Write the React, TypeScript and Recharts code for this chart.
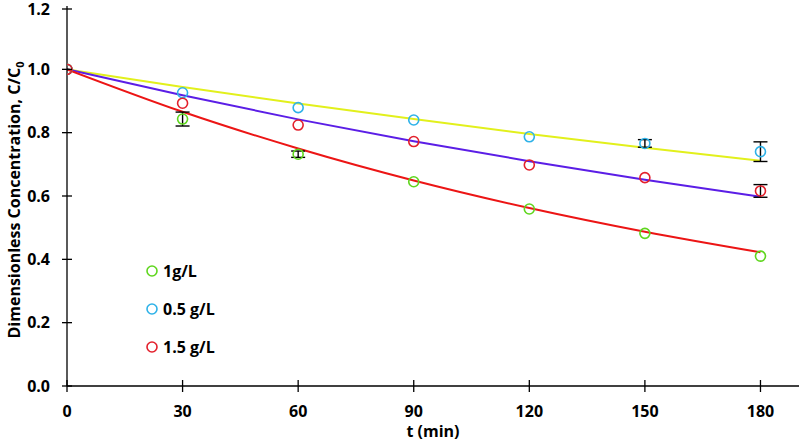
import React from "react";
import {
  ComposedChart,
  Line,
  Scatter,
  ErrorBar,
  XAxis,
  YAxis,
  Label,
} from "recharts";

const times = [0, 30, 60, 90, 120, 150, 180];

// measured points
const dose1 = [1.0, 0.843, 0.732, 0.645, 0.559, 0.482, 0.41];
const dose1Err = [0, 0.022, 0.01, 0, 0, 0, 0];
const dose05 = [1.0, 0.926, 0.879, 0.84, 0.787, 0.766, 0.74];
const dose05Err = [0, 0, 0, 0, 0, 0.012, 0.031];
const dose15 = [1.0, 0.893, 0.824, 0.772, 0.698, 0.658, 0.616];
const dose15Err = [0, 0, 0, 0, 0, 0, 0.02];

// fitted trend lines
const fitYellow = [1.0, 0.944, 0.892, 0.843, 0.796, 0.752, 0.711];
const fitPurple = [1.0, 0.918, 0.842, 0.773, 0.71, 0.651, 0.598];
const fitRed = [1.0, 0.866, 0.75, 0.649, 0.562, 0.487, 0.422];

const xTicks = [0, 30, 60, 90, 120, 150, 180];
const yTicks = [0, 0.2, 0.4, 0.6, 0.8, 1.0, 1.2];

const series = [
  { name: "1g/L", values: dose1, err: dose1Err, color: "#5fd61e" },
  { name: "0.5 g/L", values: dose05, err: dose05Err, color: "#2fb2e8" },
  { name: "1.5 g/L", values: dose15, err: dose15Err, color: "#e3202c" },
];

const fits = [
  { values: fitYellow, color: "#e2f01c" },
  { values: fitPurple, color: "#5b1ee6" },
  { values: fitRed, color: "#ec1515" },
];

const FONT = "'Open Sans', sans-serif";

const toPoints = (vals: number[], err?: number[]) =>
  times.map((t, i) => ({ t, v: vals[i], e: err ? err[i] : 0 }));

const YTick = (props: any) => {
  const { x, y, payload } = props;
  const ax = x + 17;
  return (
    <g>
      <line x1={ax - 5} x2={ax + 5} y1={y} y2={y} stroke="#000" strokeWidth={1.3} />
      <text x={x} y={y} dy="0.36em" textAnchor="end" fontFamily={FONT} fontWeight={700} fontSize={16} fill="#000">
        {payload.value.toFixed(1)}
      </text>
    </g>
  );
};

const XTick = (props: any) => {
  const { x, y, payload } = props;
  const ay = y - 20;
  return (
    <g>
      <line x1={x} x2={x} y1={ay - 6} y2={ay + 6} stroke="#000" strokeWidth={1.3} />
      <text x={x} y={y} dy="0.71em" textAnchor="middle" fontFamily={FONT} fontWeight={700} fontSize={16} fill="#000">
        {payload.value}
      </text>
    </g>
  );
};

const YTitle = (props: any) => {
  const { viewBox } = props;
  const cy = viewBox.y + viewBox.height / 2 + 4;
  return (
    <text
      x={20}
      y={cy}
      transform={`rotate(-90 20 ${cy})`}
      textAnchor="middle"
      fontFamily={FONT}
      fontWeight={700}
      fontSize={16}
      fill="#000"
    >
      <tspan>Dimensionless Concentration, C/C</tspan>
      <tspan fontSize={11} dy={4}>0</tspan>
    </text>
  );
};

const XTitle = (props: any) => {
  const { viewBox } = props;
  return (
    <text
      x={viewBox.x + viewBox.width / 2}
      y={437}
      textAnchor="middle"
      fontFamily={FONT}
      fontWeight={700}
      fontSize={16}
      fill="#000"
    >
      t (min)
    </text>
  );
};

const LegendBox = () => (
  <div
    style={{
      position: "absolute",
      left: 145,
      top: 252,
      fontFamily: FONT,
      fontWeight: 700,
      fontSize: 16,
    }}
  >
    {series.map((s) => (
      <div key={s.name} style={{ display: "flex", alignItems: "center", height: 38 }}>
        <svg width={14} height={14} style={{ marginRight: 4 }}>
          <circle cx={7} cy={7} r={5} fill="none" stroke={s.color} strokeWidth={1.6} />
        </svg>
        <span>{s.name}</span>
      </div>
    ))}
  </div>
);

const ring = (color: string) => (p: any) =>
  <circle cx={p.cx} cy={p.cy} r={5} fill="none" stroke={color} strokeWidth={1.6} />;

export default function App() {
  return (
    <div style={{ width: 802, height: 441, position: "relative" }}>
      <style>{`body{margin:0}`}</style>
      <ComposedChart width={802} height={441} margin={{ top: 6, right: 3, left: 0, bottom: 0 }}>
        <XAxis
          xAxisId="b"
          dataKey="t"
          type="number"
          domain={[0, 190]}
          ticks={xTicks}
          height={55}
          tickLine={false}
          tickSize={6}
          tickMargin={14}
          tick={<XTick />}
          axisLine={{ stroke: "#000", strokeWidth: 1.3 }}
          allowDataOverflow
        >
          <Label content={<XTitle />} />
        </XAxis>
        <XAxis
          xAxisId="top"
          orientation="top"
          type="number"
          domain={[0, 190]}
          height={0}
          tick={false}
          tickLine={false}
          axisLine={{ stroke: "#000", strokeWidth: 1.3 }}
        />
        <YAxis
          yAxisId="l"
          type="number"
          domain={[0, 1.2]}
          ticks={yTicks}
          width={67}
          tickLine={false}
          tickSize={6}
          tickMargin={11}
          tick={<YTick />}
          axisLine={{ stroke: "#000", strokeWidth: 1.3 }}
        >
          <Label content={<YTitle />} />
        </YAxis>
        <YAxis
          yAxisId="r"
          orientation="right"
          type="number"
          domain={[0, 1.2]}
          width={0}
          tick={false}
          tickLine={false}
          axisLine={{ stroke: "#000", strokeWidth: 1.3 }}
        />
        {fits.map((f, i) => (
          <Line
            key={`fit${i}`}
            xAxisId="b"
            yAxisId="l"
            data={toPoints(f.values)}
            dataKey="v"
            type="monotone"
            stroke={f.color}
            strokeWidth={2}
            dot={false}
            activeDot={false}
            legendType="none"
            isAnimationActive={false}
          />
        ))}
        {series.map((s) => (
          <Scatter
            key={s.name}
            name={s.name}
            xAxisId="b"
            yAxisId="l"
            data={toPoints(s.values, s.err)}
            dataKey="v"
            shape={ring(s.color)}
            isAnimationActive={false}
          >
            <ErrorBar dataKey="e" direction="y" width={7} stroke="#000" strokeWidth={1.4} isAnimationActive={false} />
          </Scatter>
        ))}
      </ComposedChart>
      <LegendBox />
    </div>
  );
}
